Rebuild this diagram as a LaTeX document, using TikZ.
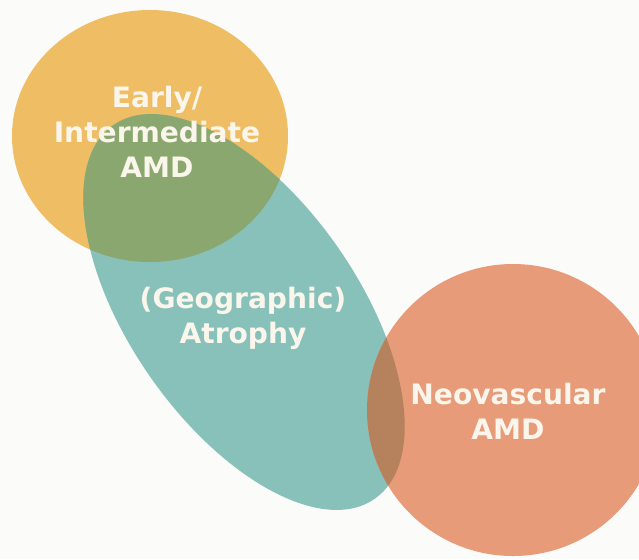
\documentclass[tikz,border=0pt]{standalone}
\usepackage{fontspec}
\setmainfont{DejaVu Sans}
\usepackage{tikz}
\usetikzlibrary{calc}
\definecolor{amdyellow}{HTML}{EFBD63}
\definecolor{amdteal}{HTML}{88C1B9}
\definecolor{amdgreen}{HTML}{89A76F}
\definecolor{amdorange}{HTML}{E89B79}
\definecolor{amdbrown}{HTML}{B6825E}
\definecolor{amdtext}{HTML}{FBF6EC}
\definecolor{bgwhite}{HTML}{FBFBFA}

\begin{document}
\begin{tikzpicture}[x=0.02cm,y=-0.02cm,
  setlabel/.style={text=amdtext, align=center, font=\fontsize{16}{20}\selectfont\bfseries}]

\useasboundingbox (0,0) rectangle (639,559);
\fill[bgwhite] (0,0) rectangle (639,559);

\coordinate (cY) at (150,136);
\coordinate (cT) at (244,312);
\coordinate (cO) at (513,410);

% early / intermediate
\fill[amdyellow] (cY) ellipse [x radius=138, y radius=126];

% atrophy
\fill[amdteal, rotate around={-55:(cT)}] (cT) ellipse [x radius=228, y radius=114];
\begin{scope}
\clip (cY) ellipse [x radius=138, y radius=126];
\fill[amdgreen, rotate around={-55:(cT)}] (cT) ellipse [x radius=228, y radius=114];
\end{scope}

% neovascular
\fill[amdorange] (cO) circle [radius=146];
\begin{scope}
\clip[rotate around={-55:(cT)}] (cT) ellipse [x radius=228, y radius=114];
\fill[amdbrown] (cO) circle [radius=146];
\end{scope}

\node[setlabel] (early) at (157,132) {Early/\\Intermediate\\AMD};
\node[setlabel] (atrophy) at (243,318) {(Geographic)\\Atrophy};
\node[setlabel] (neo) at (508,411) {Neovascular\\AMD};

\end{tikzpicture}
\end{document}
